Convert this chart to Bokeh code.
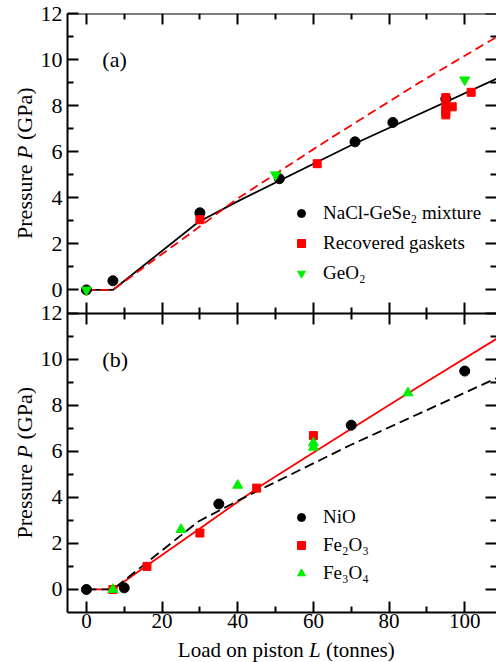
from bokeh.plotting import figure
from bokeh.layouts import column, row
from bokeh.models import Range1d, FixedTicker, LinearAxis, Label, Legend, LegendItem, AllLabels
from bokeh.embed import file_html
from bokeh.resources import INLINE

# ---------------- data: panel (a) ----------------
a_nacl_x = [0, 7, 30, 51, 71, 81, 95]
a_nacl_y = [0, 0.4, 3.35, 4.83, 6.43, 7.27, 8.29]
a_gasket_x = [30, 61, 95, 95, 95, 95, 96.7, 101.7]
a_gasket_y = [3.05, 5.48, 8.35, 7.95, 7.75, 7.6, 7.95, 8.58]
a_geo2_x = [0, 50, 100]
a_geo2_y = [0, 5.0, 9.12]
a_red_x = [0, 7, 29.6, 39.7, 63.5, 88.1, 108.4]
a_red_y = [0, 0, 2.71, 3.94, 6.48, 9.01, 10.98]
black_x = [0, 7, 29.6, 40.6, 69.7, 108.4]
black_y = [0, 0, 2.95, 3.9, 6.26, 9.17]

# ---------------- data: panel (b) ----------------
b_nio_x = [0, 10, 35, 70, 100]
b_nio_y = [0, 0.07, 3.71, 7.13, 9.48]
b_fe2o3_x = [7, 16, 30, 45, 60]
b_fe2o3_y = [0, 1.0, 2.45, 4.4, 6.68]
b_fe3o4_x = [7, 25, 40, 60, 60, 85]
b_fe3o4_y = [0, 2.6, 4.52, 6.36, 6.17, 8.53]
b_red_x = [0, 7, 16, 30, 45.9, 70, 85, 108.4]
b_red_y = [0, 0, 1.04, 2.65, 4.48, 6.98, 8.52, 10.88]

# ---------------- ticks ----------------
x_ticks = [0, 20, 40, 60, 80, 100]
x_minor = [10, 30, 50, 70, 90]
y_ticks = [0, 2, 4, 6, 8, 10, 12]
y_minor = [1, 3, 5, 7, 9, 11]

FONT = "Liberation Serif"
GREEN = "#00ee00"
X0, X1 = -5, 108.4
Y0, YSPLIT = -1, 12          # each panel spans -1 .. 12
OFF = YSPLIT - Y0            # offset of panel (a) inside the shared frame
YTOP = YSPLIT + OFF

LEFT_W = 36                  # width of the strip holding the y titles
MAIN_H = 636                 # height of main plot canvas
TOP_B, BOT_B = 13, 24
STRIP_H = 662 - MAIN_H

y_range = Range1d(Y0, YTOP)
x_range = Range1d(X0, X1)

p = figure(width=496 - LEFT_W, height=MAIN_H, x_range=x_range, y_range=y_range,
           output_backend="svg", toolbar_location=None,
           x_axis_location=None, y_axis_location=None,
           min_border_left=67 - LEFT_W, min_border_right=0,
           min_border_top=TOP_B, min_border_bottom=BOT_B)
p.extra_y_ranges = {"top": Range1d(Y0 - OFF, YSPLIT)}
p.outline_line_color = None
p.grid.visible = False


def style(ax, mi, mo, ni, no, fs="22px"):
    ax.major_tick_in = mi
    ax.major_tick_out = mo
    ax.minor_tick_in = ni
    ax.minor_tick_out = no
    ax.axis_line_width = 2
    ax.axis_line_color = "black"
    ax.major_tick_line_width = 2
    ax.minor_tick_line_width = 2
    ax.major_label_text_font = FONT
    ax.major_label_text_font_size = fs
    ax.major_label_text_color = "black"
    ax.major_label_policy = AllLabels()


def blank(ticks):
    return {t: "" for t in ticks}


y_all = y_ticks + [v + OFF for v in y_ticks]
y_all_minor = y_minor + [v + OFF for v in y_minor]
y_over = {v + OFF: str(v) for v in y_ticks}

left = LinearAxis(ticker=FixedTicker(ticks=y_all, minor_ticks=y_all_minor),
                  major_label_overrides=y_over)
style(left, 11, 0, 6, 0)
left.major_label_standoff = 5
p.add_layout(left, "left")

right = LinearAxis(ticker=FixedTicker(ticks=y_all, minor_ticks=y_all_minor), fixed_location=X1,
                   major_label_overrides=blank(y_all))
style(right, 11, 0, 6, 0)
right.axis_line_color = None
p.add_layout(right, "right")

bottom = LinearAxis(ticker=FixedTicker(ticks=x_ticks, minor_ticks=x_minor))
style(bottom, 11, 0, 6, 0, fs="21px")
bottom.major_label_standoff = 1
p.add_layout(bottom, "below")

top = LinearAxis(ticker=FixedTicker(ticks=x_ticks, minor_ticks=x_minor), fixed_location=YTOP,
                 major_label_overrides=blank(x_ticks))
style(top, 11, 0, 6, 0)
p.add_layout(top, "above")

mid = LinearAxis(ticker=FixedTicker(ticks=x_ticks, minor_ticks=x_minor), fixed_location=YSPLIT,
                 major_label_overrides=blank(x_ticks))
style(mid, 11, 11, 6, 6)
p.add_layout(mid, "below")

# ---------------- panel (a) ----------------
p.line(black_x, black_y, y_range_name="top", line_color="black", line_width=1.8)
p.line(a_red_x, a_red_y, y_range_name="top", line_color="red", line_width=1.8, line_dash="9 5")
ra1 = p.scatter(a_nacl_x, a_nacl_y, y_range_name="top", marker="circle", size=10,
                fill_color="black", line_color="black")
ra2 = p.scatter(a_gasket_x, a_gasket_y, y_range_name="top", marker="square", size=8,
                fill_color="red", line_color="red")
ra3 = p.scatter(a_geo2_x, a_geo2_y, y_range_name="top", marker="inverted_triangle", size=10,
                fill_color=GREEN, line_color=GREEN)

# ---------------- panel (b) ----------------
p.line(b_red_x, b_red_y, line_color="red", line_width=1.8)
p.line(black_x, black_y, line_color="black", line_width=1.8, line_dash="10 5")
rb1 = p.scatter(b_nio_x, b_nio_y, marker="circle", size=10, fill_color="black", line_color="black")
rb2 = p.scatter(b_fe2o3_x, b_fe2o3_y, marker="square", size=8, fill_color="red", line_color="red")
rb3 = p.scatter(b_fe3o4_x, b_fe3o4_y, marker="triangle", size=10, fill_color=GREEN, line_color=GREEN)


def make_legend(items, loc, spacing):
    leg = Legend(items=items, location=loc, orientation="vertical")
    leg.border_line_color = None
    leg.background_fill_alpha = 0
    leg.padding = 0
    leg.margin = 0
    leg.spacing = spacing
    leg.glyph_width = 20
    leg.glyph_height = 20
    leg.label_height = 22
    leg.label_standoff = 12
    leg.label_text_font = FONT
    leg.label_text_font_size = "19px"
    leg.label_text_color = "black"
    return leg


leg_a = make_legend([LegendItem(label="NaCl-GeSe₂ mixture", renderers=[ra1]),
                     LegendItem(label="Recovered gaskets", renderers=[ra2]),
                     LegendItem(label="GeO₂", renderers=[ra3])], (224, 328), 8)
leg_b = make_legend([LegendItem(label="NiO", renderers=[rb1]),
                     LegendItem(label="Fe₂O₃", renderers=[rb2]),
                     LegendItem(label="Fe₃O₄", renderers=[rb3])], (224, 28), 6)
p.add_layout(leg_a)
p.add_layout(leg_b)

# panel labels
for txt, yy in (("(a)", 10 + OFF), ("(b)", 10)):
    p.add_layout(Label(x=4.2, y=yy, text=txt, text_font=FONT, text_font_size="22px",
                       text_baseline="middle", text_align="left", text_color="black"))

# ---------------- strip with the y-axis titles ----------------
ly = figure(width=LEFT_W, height=MAIN_H, x_range=Range1d(0, LEFT_W), y_range=y_range,
            output_backend="svg", toolbar_location=None,
            x_axis_location=None, y_axis_location=None,
            min_border_left=0, min_border_right=0, min_border_top=TOP_B, min_border_bottom=BOT_B)
ly.outline_line_color = None
ly.grid.visible = False
for yc in (5.5 + OFF, 5.5):
    for txt, off, st in (("Pressure", -75.7, "normal"), ("P", 4.3, "italic"), ("(GPa)", 23.2, "normal")):
        ly.add_layout(Label(x=24, y=yc, text=txt, angle=1.5707963, y_offset=off,
                            text_font=FONT, text_font_size="22px", text_font_style=st,
                            text_align="left", text_baseline="middle", text_color="black"))

# ---------------- strip with the x-axis title ----------------
lx = figure(width=496, height=STRIP_H, x_range=x_range, y_range=Range1d(0, STRIP_H),
            output_backend="svg", toolbar_location=None,
            x_axis_location=None, y_axis_location=None,
            min_border_left=67, min_border_right=0, min_border_top=0, min_border_bottom=0)
lx.outline_line_color = None
lx.grid.visible = False
for txt, off, st in (("Load on piston", -108.5, "normal"), ("L", 22.7, "italic"), ("(tonnes)", 39.6, "normal")):
    lx.add_layout(Label(x=52.85, y=STRIP_H / 2, text=txt, x_offset=off,
                        text_font=FONT, text_font_size="21px", text_font_style=st,
                        text_align="left", text_baseline="middle", text_color="black"))

layout = column(row(ly, p), lx)
open("out.html", "w").write(file_html(layout, INLINE))
